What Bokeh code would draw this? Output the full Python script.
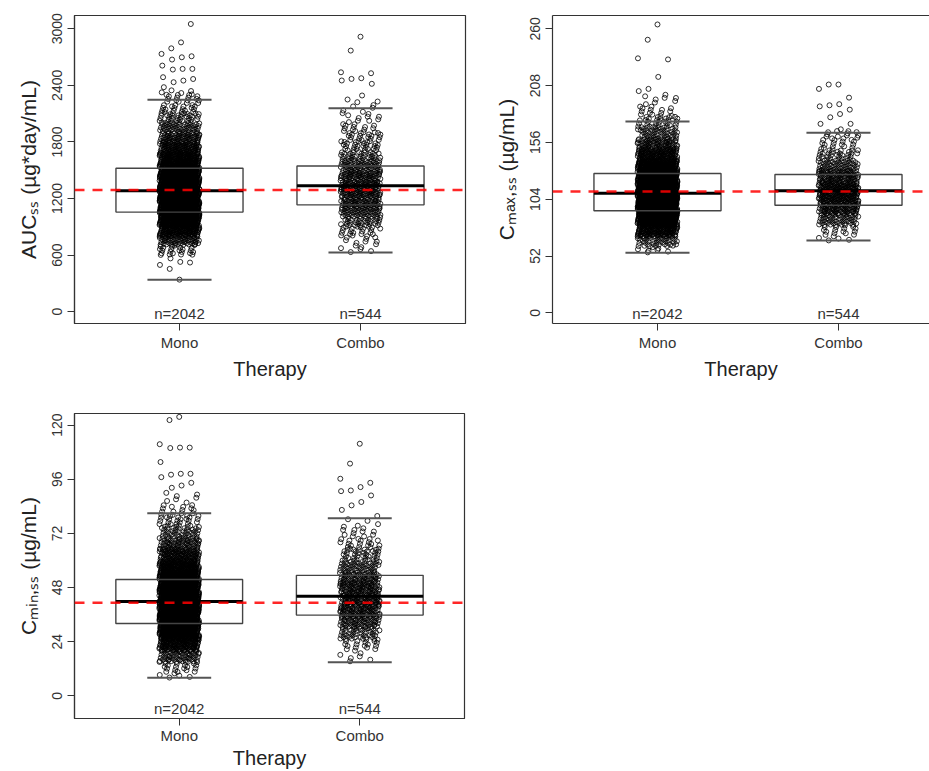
import numpy as np
from bokeh.plotting import figure
from bokeh.layouts import column, row
from bokeh.models import Range1d, FixedTicker, Span, LinearAxis
from bokeh.embed import file_html
from bokeh.resources import INLINE
from bokeh.core.properties import value

# ---------------------------------------------------------------- data
therapies = ["Mono", "Combo"]
therapy_pos = [1, 2]
n_subjects = [2042, 544]

# AUC,ss (ug*day/mL)
auc_ticks = [0, 600, 1200, 1800, 2400, 3000]
auc_q1 = [1056, 1133]
auc_median = [1281, 1334]
auc_q3 = [1521, 1545]
auc_whisker_lo = [338, 627]
auc_whisker_hi = [2247, 2158]
auc_reference = 1290
auc_mono_low = [340, 454, 496, 521, 528, 565, 602]
auc_mono_edges = [600, 700, 800, 900, 1000, 1100, 1200, 1300, 1400, 1500,
                  1600, 1700, 1800, 1900, 2000, 2100, 2200, 2300, 2350]
auc_mono_counts = [20, 58, 110, 174, 218, 241, 239, 220, 202, 145,
                   118, 88, 65, 47, 31, 22, 16, 5]
auc_mono_high = [3050, 2855, 2792, 2733, 2708, 2697, 2673, 2609, 2574, 2574,
                 2567, 2486, 2467, 2450, 2433, 2380]
auc_combo_low = []
auc_combo_edges = [627, 700, 800, 900, 1000, 1100, 1200, 1300, 1400, 1500,
                   1600, 1700, 1800, 1900, 2000, 2100, 2200, 2250]
auc_combo_counts = [5, 10, 18, 34, 50, 62, 66, 68, 64, 46, 35, 25, 20, 14, 9, 6, 3]
auc_combo_high = [2915, 2768, 2538, 2528, 2475, 2468, 2451, 2416, 2292]

# Cmax,ss (ug/mL)
cmax_ticks = [0, 52, 104, 156, 208, 260]
cmax_q1 = [93.4, 98.5]
cmax_median = [109.5, 111.7]
cmax_q3 = [127.5, 126.6]
cmax_whisker_lo = [54.9, 66.2]
cmax_whisker_hi = [175.1, 164.8]
cmax_reference = 111.0
cmax_mono_low = []
cmax_mono_edges = [55, 60, 70, 80, 90, 100, 110, 120, 130, 140, 150, 160, 170, 180, 190, 200]
cmax_mono_counts = [6, 43, 122, 230, 300, 337, 300, 241, 174, 116, 74, 43, 27, 14, 8]
cmax_mono_high = [264, 250, 233, 232, 216, 205, 203]
cmax_combo_low = []
cmax_combo_edges = [66, 70, 80, 90, 100, 110, 120, 130, 140, 150, 160, 167]
cmax_combo_counts = [4, 16, 46, 80, 101, 98, 78, 50, 31, 16, 11]
cmax_combo_high = [209, 209, 205, 197, 191, 190, 189, 186, 182, 179, 173, 173, 168]

# Cmin,ss (ug/mL)
cmin_ticks = [0, 24, 48, 72, 96, 120]
cmin_q1 = [32.1, 35.8]
cmin_median = [41.8, 44.2]
cmin_q3 = [51.6, 53.4]
cmin_whisker_lo = [8.0, 14.9]
cmin_whisker_hi = [80.9, 78.7]
cmin_reference = 41.3
cmin_mono_low = []
cmin_mono_edges = [8, 10, 15, 20, 25, 30, 35, 40, 45, 50, 55, 60, 65, 70, 75, 80, 85, 90]
cmin_mono_counts = [4, 20, 57, 119, 189, 250, 282, 272, 240, 198, 145, 100, 66, 41, 24, 14, 7]
cmin_mono_high = [123.6, 122.2, 111.5, 110.0, 110.0, 109.8, 103.6, 98.4, 98.4,
                  98.0, 96.9, 94.4, 93.2, 92.2]
cmin_combo_low = []
cmin_combo_edges = [15, 20, 25, 30, 35, 40, 45, 50, 55, 60, 65, 70, 75, 80]
cmin_combo_counts = [6, 18, 38, 60, 78, 81, 76, 63, 47, 31, 19, 11, 5]
cmin_combo_high = [111.7, 102.9, 96.2, 94.4, 92.5, 91.0, 90.7, 88.8, 85.9, 84.4, 82.4]

# ---------------------------------------------------------------- helpers
FONT = "Liberation Sans"
JITTER = 0.11
A1, A2 = 0.7548776662, 0.5698402910   # R2 low-discrepancy steps
X_START = 0.42


def group_points(pos, low, edges, counts, high):
    """Spread each binned count over its bin; single values are kept as is."""
    xs, ys = [], []
    for i, v in enumerate(list(low) + list(high)):
        xs.append(pos + (((0.5 + i * A1) % 1.0) - 0.5) * 2 * JITTER)
        ys.append(v)
    for b, (lo, hi, c) in enumerate(zip(edges[:-1], edges[1:], counts)):
        shift = 0.37 * b
        for k in range(c):
            u = (0.5 + shift + k * A1) % 1.0
            w = (0.5 + shift + k * A2) % 1.0
            xs.append(pos + (u - 0.5) * 2 * JITTER)
            ys.append(lo + w * (hi - lo))
    return np.array(xs), np.array(ys)


def make_panel(ylabel, ticks, yrange, q1, med, q3, wlo, whi, ref, groups,
               width, height, borders, x_end, open_right=False,
               tight_bottom=False):
    left, right, top, bottom = borders
    p = figure(width=width, height=height, x_range=Range1d(X_START, x_end),
               y_range=Range1d(*yrange), output_backend="svg",
               toolbar_location=None, min_border_left=left,
               min_border_right=right, min_border_top=top,
               min_border_bottom=bottom)
    p.grid.visible = False
    p.background_fill_color = "white"
    p.border_fill_color = "white"
    p.outline_line_color = None if open_right else "#333333"
    p.outline_line_width = 1.2

    # jittered individual values
    for pos, (low, edges, counts, high), n in zip(therapy_pos, groups, n_subjects):
        xs, ys = group_points(pos, low, edges, counts, high)
        assert len(ys) == n
        p.scatter(xs, ys, marker="circle", size=5, fill_color=None,
                  line_color="black", line_alpha=0.9, line_width=0.9)

    # boxes, medians and whisker caps
    half_box, half_cap = 0.351, 0.177
    xp = np.array(therapy_pos, dtype=float)
    p.quad(left=xp - half_box, right=xp + half_box, bottom=q1, top=q3,
           fill_color=None, line_color="#444444", line_width=1.4)
    p.segment(x0=xp - half_box, x1=xp + half_box, y0=med, y1=med,
              line_color="black", line_width=3)
    p.segment(x0=xp - half_cap, x1=xp + half_cap, y0=wlo, y1=wlo,
              line_color="#555555", line_width=2)
    p.segment(x0=xp - half_cap, x1=xp + half_cap, y0=whi, y1=whi,
              line_color="#555555", line_width=2)

    p.add_layout(Span(location=ref, dimension="width", line_color="red",
                      line_alpha=0.85, line_dash="10 8", line_width=2.5))

    p.text(x=therapy_pos, y=[yrange[0]] * 2,
           text=[f"n={n}" for n in n_subjects], text_align="center",
           text_baseline="middle", y_offset=-10,
           text_font=value(FONT), text_font_size="15px", text_color="#333333")

    # axes
    xaxis, yaxis = p.xaxis[0], p.yaxis[0]
    xaxis.ticker = FixedTicker(ticks=therapy_pos)
    xaxis.major_label_overrides = {pos: name for pos, name in zip(therapy_pos, therapies)}
    xaxis.axis_label = "Therapy"
    yaxis.ticker = FixedTicker(ticks=ticks)
    yaxis.axis_label = ylabel
    yaxis.major_label_orientation = "vertical"
    for ax in (xaxis, yaxis):
        ax.axis_line_color = "#333333"
        ax.axis_line_width = 1.2
        ax.major_tick_line_color = "#333333"
        ax.major_tick_out = 7
        ax.major_tick_in = 0
        ax.minor_tick_line_color = None
        ax.major_label_text_font = FONT
        ax.major_label_text_color = "#333333"
        ax.axis_label_text_font = FONT
        ax.axis_label_text_font_style = "normal"
        ax.axis_label_text_color = "#222222"
    xaxis.major_label_text_font_size = "15px"
    xaxis.axis_label_text_font_size = "20px"
    if tight_bottom:
        # short bottom strip: pull the labels closer to the frame
        xaxis.major_label_standoff = 1
        xaxis.axis_label_standoff = 0
    else:
        xaxis.major_label_standoff = 3
        xaxis.axis_label_standoff = 4
    yaxis.major_label_text_font_size = "14px"
    yaxis.major_label_standoff = 5
    yaxis.axis_label_text_font_size = "21px"
    yaxis.axis_label_standoff = 10

    if open_right:
        # frame drawn on three sides only: add a bare line along the top
        p.add_layout(LinearAxis(ticker=FixedTicker(ticks=[]),
                                major_label_text_font_size="0px",
                                axis_line_color="#333333", axis_line_width=1.2,
                                major_tick_line_color=None,
                                minor_tick_line_color=None), "above")
    return p


p_auc = make_panel(
    "AUCₛₛ (µg*day/mL)", auc_ticks, (-125, 3140),
    auc_q1, auc_median, auc_q3, auc_whisker_lo, auc_whisker_hi, auc_reference,
    [(auc_mono_low, auc_mono_edges, auc_mono_counts, auc_mono_high),
     (auc_combo_low, auc_combo_edges, auc_combo_counts, auc_combo_high)],
    478, 398, (74, 13, 15, 74), 2.58)

p_cmax = make_panel(
    "Cₘₐₓ,ₛₛ (µg/mL)", cmax_ticks, (-9.8, 272.2),
    cmax_q1, cmax_median, cmax_q3, cmax_whisker_lo, cmax_whisker_hi, cmax_reference,
    [(cmax_mono_low, cmax_mono_edges, cmax_mono_counts, cmax_mono_high),
     (cmax_combo_low, cmax_combo_edges, cmax_combo_counts, cmax_combo_high)],
    451, 398, (74, 0, 15, 75), X_START + 377 / 181.0, open_right=True)

p_cmin = make_panel(
    "Cₘᵢₙ,ₛₛ (µg/mL)", cmin_ticks, (-10, 125.1),
    cmin_q1, cmin_median, cmin_q3, cmin_whisker_lo, cmin_whisker_hi, cmin_reference,
    [(cmin_mono_low, cmin_mono_edges, cmin_mono_counts, cmin_mono_high),
     (cmin_combo_low, cmin_combo_edges, cmin_combo_counts, cmin_combo_high)],
    478, 373, (74, 14, 15, 50), 2.58, tight_bottom=True)

layout = column(row(p_auc, p_cmax), p_cmin)
open("out.html", "w").write(file_html(layout, INLINE))
